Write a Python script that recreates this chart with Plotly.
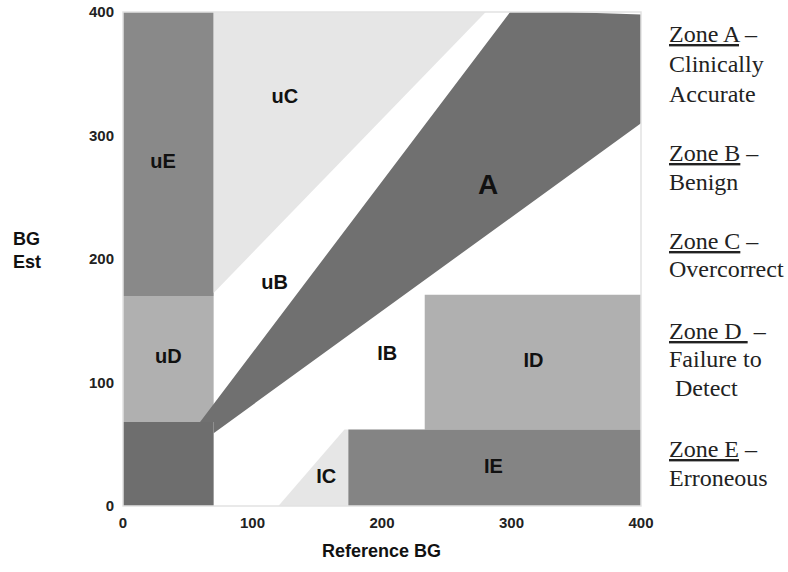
import plotly.graph_objects as go

# ---- zone polygons (Reference BG, BG Est) ----
zone_names = ["uE", "uD", "A_low", "A_band", "uC", "lC", "lD", "lE"]
zone_x = {
    "uE": [0, 0, 70, 70],
    "uD": [0, 0, 70, 70],
    "A_low": [0, 0, 70, 70],
    "A_band": [59.5, 300, 400, 400, 70, 70],
    "uC": [70, 70, 282],
    "lC": [120, 171, 174, 174],
    "lD": [233, 233, 400, 400],
    "lE": [174, 174, 400, 400],
}
zone_y = {
    "uE": [170, 402, 402, 170],
    "uD": [68, 170, 170, 68],
    "A_low": [0, 68, 68, 0],
    "A_band": [68, 401.5, 398, 310, 59, 68],
    "uC": [402, 172.5, 402],
    "lC": [0, 62, 62, 0],
    "lD": [62, 171, 171, 62],
    "lE": [0, 62, 62, 0],
}
zone_colors = {
    "uE": "#898989",
    "uD": "#b0b0b0",
    "A_low": "#6e6e6e",
    "A_band": "#707070",
    "uC": "#e6e6e6",
    "lC": "#e6e6e6",
    "lD": "#b0b0b0",
    "lE": "#848484",
}

# ---- zone labels ----
label_text = ["uC", "uE", "A", "uB", "uD", "IB", "ID", "IC", "IE"]
label_x = [125, 31, 282, 117, 35, 204, 317, 157, 286]
label_y = [330, 278, 258, 180, 120, 122, 117, 23, 31]
label_size = [20, 20, 28, 20, 20, 20, 20, 20, 20]

tick_vals = [0, 100, 200, 300, 400]
tick_text = ["0", "100", "200", "300", "400"]

legend_lines = [
    "<u>Zone A</u> \u2013",
    "Clinically",
    "Accurate",
    "<u>Zone B</u> \u2013",
    "Benign",
    "<u>Zone C</u> \u2013",
    "Overcorrect",
    "<u>Zone D </u> \u2013",
    "Failure to",
    " Detect",
    "<u>Zone E</u> \u2013",
    "Erroneous",
]
legend_py = [34, 64, 94, 153, 182, 241, 269, 331, 359, 388, 449, 478]

W, H = 788, 572
ML, MR, MT, MB = 123, 147, 12, 66
PW = W - ML - MR
PH = H - MT - MB

fig = go.Figure()
for n in zone_names:
    fig.add_trace(go.Scatter(
        x=zone_x[n], y=zone_y[n], fill="toself", mode="lines",
        line=dict(width=0, color=zone_colors[n]), fillcolor=zone_colors[n],
        hoverinfo="skip", showlegend=False))

fig.add_trace(go.Scatter(
    x=label_x, y=label_y, text=label_text, mode="text",
    textfont=dict(family="Liberation Sans, Arial", size=label_size, color="#111111",
                  weight="bold"),
    textposition="middle center", showlegend=False, hoverinfo="skip"))

anns = []
for t, py in zip(legend_lines, legend_py):
    anns.append(dict(
        text=t, xref="paper", yref="paper",
        x=(667 - ML) / PW, y=(MT + PH - py) / PH,
        xanchor="left", yanchor="middle", showarrow=False,
        font=dict(family="Liberation Serif, Times New Roman", size=24, color="#222222")))

anns.append(dict(text="Reference BG", xref="paper", yref="paper",
                 x=(381 - ML) / PW, y=(MT + PH - 551) / PH,
                 xanchor="center", yanchor="middle", showarrow=False,
                 font=dict(family="Liberation Sans, Arial", size=18, color="#111111",
                           weight="bold")))
anns.append(dict(text="BG<br>Est", xref="paper", yref="paper",
                 x=(11 - ML) / PW, y=(MT + PH - 251) / PH,
                 xanchor="left", yanchor="middle", showarrow=False, align="left",
                 font=dict(family="Liberation Sans, Arial", size=18, color="#111111",
                           weight="bold")))

fig.update_layout(
    width=W, height=H,
    margin=dict(l=ML, r=MR, t=MT, b=MB, autoexpand=False),
    paper_bgcolor="white", plot_bgcolor="white",
    annotations=anns,
    shapes=[dict(type="rect", xref="paper", yref="paper", x0=0, y0=0, x1=1, y1=1,
                 line=dict(color="#e2e2e2", width=1.5), layer="above")],
)
fig.update_xaxes(range=[0, 400], tickvals=tick_vals, ticktext=tick_text,
                 showgrid=False, zeroline=False, showline=False, ticks="",
                 automargin=False, ticklabelstandoff=6,
                 tickfont=dict(family="Liberation Sans, Arial", size=15, color="#222222",
                               weight="bold"))
fig.update_yaxes(range=[0, 400], tickvals=tick_vals, ticktext=tick_text,
                 showgrid=False, zeroline=False, showline=False, ticks="",
                 automargin=False, ticklabelstandoff=8,
                 tickfont=dict(family="Liberation Sans, Arial", size=15, color="#222222",
                               weight="bold"))

fig.write_html("out.html")
